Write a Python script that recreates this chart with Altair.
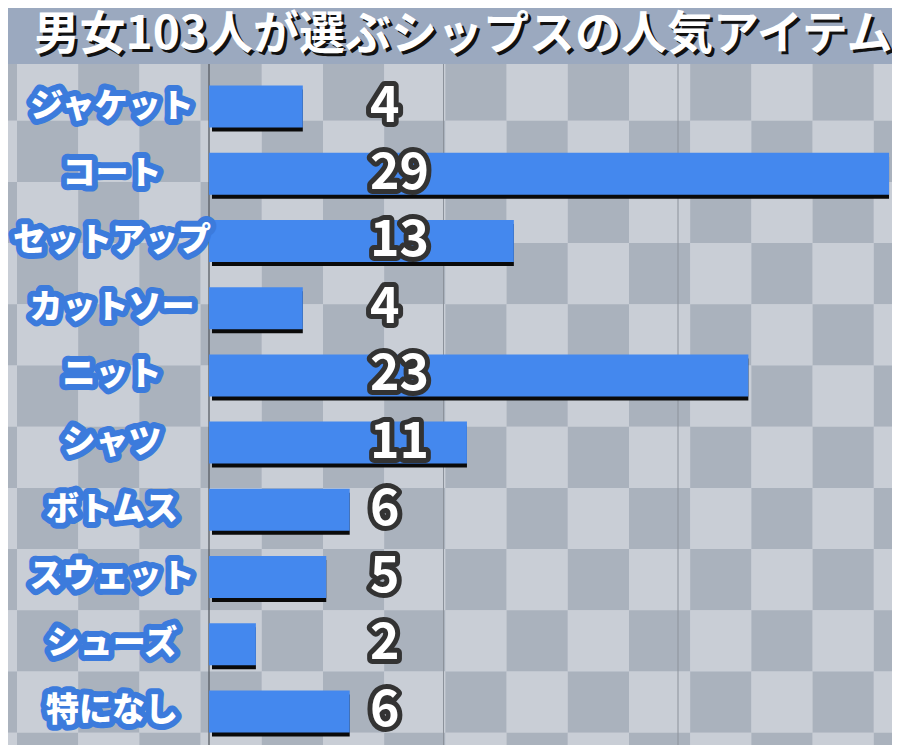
import altair as alt
import pandas as pd

# ---- data ----
categories = ["ジャケット", "コート", "セットアップ", "カットソー", "ニット",
              "シャツ", "ボトムス", "スウェット", "シューズ", "特になし"]
counts = [4, 29, 13, 4, 23, 11, 6, 5, 2, 6]
title_text = "男女103人が選ぶシップスの人気アイテム"
grid_values = [10, 20]
axis_values = [0]

df = pd.DataFrame({"item": categories, "count": counts})
title_df = pd.DataFrame({"t": [title_text]})
grid_df = pd.DataFrame({"g": grid_values})
axis_df = pd.DataFrame({"g": axis_values})

# ---- layout ----
W, H = 683, 672
PAD_L, PAD_T = 201, 65
FONT = "Noto Sans CJK JP"

# decorative checkerboard background (pixel coordinates of the plot area)
cell = 61.2
x_origin = 17 - 209
y_origin = 60 - 73.5
cells = []
for r in range(-2, 13):
    for c in range(-2, 16):
        x0 = x_origin + c * cell
        y0 = y_origin + r * cell
        cells.append(dict(x0=x0, x1=x0 + cell, y0=y0, y1=y0 + cell,
                          col="#aab2bd" if (r + c) % 2 else "#c9ced6"))
cells_df = pd.DataFrame(cells)

checker = alt.Chart(cells_df).mark_rect().encode(
    x=alt.X("x0:Q", scale=None, axis=None),
    x2="x1:Q",
    y=alt.Y("y0:Q", scale=None, axis=None),
    y2="y1:Q",
    color=alt.Color("col:N", scale=None, legend=None),
)

title_bar = alt.Chart(title_df).mark_rect(color="#9ba9bf").encode(
    x=alt.value(-PAD_L), x2=alt.value(W + 10),
    y=alt.value(-PAD_T), y2=alt.value(-9),
)
title_shadow = alt.Chart(title_df).mark_text(
    font=FONT, fontWeight="bold", fontSize=46, color="#111111",
    align="center", baseline="middle",
).encode(x=alt.value(257), y=alt.value(-35), text="t:N")
title_main = alt.Chart(title_df).mark_text(
    font=FONT, fontWeight="bold", fontSize=46, color="#ffffff",
    align="center", baseline="middle",
).encode(x=alt.value(254), y=alt.value(-38), text="t:N")

xscale = alt.Scale(domain=[0, W / 23.45], nice=False, zero=True)
yscale = alt.Scale(domain=categories, paddingInner=0.375, paddingOuter=0.1875)

axis_rule = alt.Chart(axis_df).mark_rule(color="#50555c", strokeWidth=1.2).encode(
    x=alt.X("g:Q", scale=xscale, axis=None),
    y=alt.value(-9), y2=alt.value(H + 10),
)
grid_rule = alt.Chart(grid_df).mark_rule(color="#8c929b", strokeWidth=1).encode(
    x=alt.X("g:Q", scale=xscale, axis=None),
    y=alt.value(-9), y2=alt.value(H + 10),
)

base = alt.Chart(df)
yenc = alt.Y("item:N", sort=categories, scale=yscale, axis=None)

shadow = base.mark_bar(color="#0a0a0a", x2Offset=3, yOffset=4, y2Offset=4).encode(
    x=alt.X("count:Q", scale=xscale, axis=None, stack=None),
    x2=alt.datum(0),
    y=yenc,
)
bars = base.mark_bar(color="#4488ee").encode(
    x=alt.X("count:Q", scale=xscale, axis=None, stack=None),
    y=yenc,
)

cat_outline = base.mark_text(
    font=FONT, fontWeight=900, fontSize=33, color="#3c7bdc",
    stroke="#3c7bdc", strokeWidth=12, strokeJoin="round",
    align="center", baseline="middle",
).encode(x=alt.value(-97), y=yenc, text="item:N")
cat_text = base.mark_text(
    font=FONT, fontWeight=900, fontSize=33, color="#ffffff",
    align="center", baseline="middle",
).encode(x=alt.value(-97), y=yenc, text="item:N")

val_outline = base.mark_text(
    font=FONT, fontWeight="bold", fontSize=50, color="#333333",
    stroke="#333333", strokeWidth=10, strokeJoin="round",
    align="left", baseline="middle",
).encode(x=alt.value(161), y=yenc, text="count:Q")
val_text = base.mark_text(
    font=FONT, fontWeight="bold", fontSize=50, color="#ffffff",
    align="left", baseline="middle",
).encode(x=alt.value(161), y=yenc, text="count:Q")

main = alt.layer(axis_rule, grid_rule, shadow, bars, cat_outline, cat_text,
                 val_outline, val_text)

chart = alt.layer(checker, title_bar, title_shadow, title_main, main).resolve_scale(
    x="independent", y="independent", color="independent"
).properties(
    width=W, height=H,
    autosize=alt.AutoSizeParams(type="none"),
    padding={"left": PAD_L, "top": PAD_T, "right": 0, "bottom": 0},
    background="#c9ced6",
).configure_view(stroke=None)

chart.save("out.html", embed_options={"renderer": "svg", "actions": False})
